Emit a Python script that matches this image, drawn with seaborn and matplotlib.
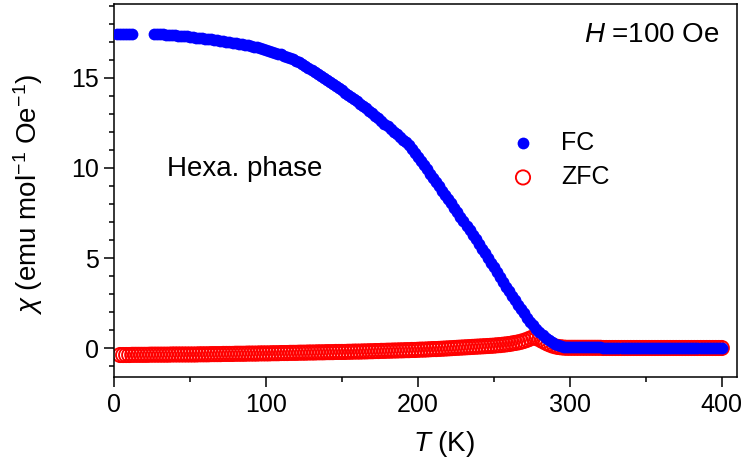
import matplotlib
matplotlib.use("Agg")
import matplotlib.pyplot as plt
from matplotlib.ticker import MultipleLocator
import seaborn as sns
import pandas as pd

# ---- measured susceptibility, field-cooled (FC) ----
fc_T = [2, 4, 6, 8, 10, 12,
        26, 28, 30, 32, 34, 36, 38, 40, 42, 44, 46, 48, 50,
        52, 54, 56, 58, 60, 62, 64, 66, 68, 70, 72, 74, 76, 78, 80, 82, 84, 86, 88, 90, 92, 94, 96, 98, 100,
        102, 104, 106, 108, 110, 112, 114, 116, 118, 120, 122, 124, 126, 128, 130, 132, 134, 136, 138, 140, 142, 144, 146, 148, 150,
        152, 154, 156, 158, 160, 162, 164, 166, 168, 170, 172, 174, 176, 178, 180, 182, 184, 186, 188, 190, 192, 194, 196, 198, 200,
        202, 204, 206, 208, 210, 212, 214, 216, 218, 220, 222, 224, 226, 228, 230, 232, 234, 236, 238, 240, 242, 244, 246, 248, 250,
        252, 254, 256, 258, 260, 262, 264, 266, 268, 270, 272, 274, 276, 278, 280, 282, 284, 286, 288, 290, 292, 294, 296, 298, 300,
        302, 304, 306, 308, 310, 312, 314, 316, 318, 320, 322, 324, 326, 328, 330, 332, 334, 336, 338, 340, 342, 344, 346, 348, 350,
        352, 354, 356, 358, 360, 362, 364, 366, 368, 370, 372, 374, 376, 378, 380, 382, 384, 386, 388, 390, 392, 394, 396, 398, 400]
fc_chi = [17.46, 17.46, 17.46, 17.45, 17.45, 17.45,
          17.43, 17.43, 17.42, 17.41, 17.40, 17.39, 17.38, 17.36, 17.35, 17.33, 17.32, 17.30, 17.28,
          17.26, 17.24, 17.22, 17.20, 17.18, 17.16, 17.13, 17.11, 17.09, 17.06, 17.03, 17.01, 16.98, 16.95, 16.92,
          16.89, 16.86, 16.84, 16.81, 16.78, 16.74, 16.69, 16.65, 16.60, 16.55,
          16.50, 16.45, 16.40, 16.35, 16.30, 16.24, 16.17, 16.10, 16.03, 15.95, 15.86, 15.76, 15.66, 15.56, 15.45,
          15.34, 15.23, 15.12, 15.01, 14.90, 14.78, 14.66, 14.54, 14.42, 14.30,
          14.18, 14.06, 13.94, 13.82, 13.70, 13.57, 13.44, 13.31, 13.18, 13.05, 12.91, 12.76, 12.61, 12.46, 12.31,
          12.16, 12.01, 11.86, 11.72, 11.58, 11.42, 11.25, 11.05, 10.85, 10.63,
          10.39, 10.15, 9.92, 9.69, 9.46, 9.23, 8.99, 8.75, 8.51, 8.27, 8.03, 7.79, 7.55, 7.30, 7.05,
          6.80, 6.55, 6.30, 6.04, 5.78, 5.52, 5.26, 5.00, 4.74, 4.48,
          4.22, 3.96, 3.69, 3.42, 3.16, 2.91, 2.66, 2.41, 2.17, 1.93, 1.70, 1.48, 1.27, 1.07, 0.88,
          0.71, 0.56, 0.43, 0.32, 0.23, 0.16, 0.11, 0.08, 0.06, 0.05,
          0.04, 0.04, 0.04, 0.04, 0.04, 0.04, 0.04, 0.04, 0.04, 0.04, 0.03, 0.03, 0.03, 0.03, 0.03,
          0.03, 0.03, 0.03, 0.03, 0.03, 0.03, 0.03, 0.03, 0.03, 0.03,
          0.03, 0.03, 0.03, 0.03, 0.03, 0.02, 0.02, 0.02, 0.02, 0.02, 0.02, 0.02, 0.02, 0.02, 0.02,
          0.02, 0.02, 0.02, 0.02, 0.02, 0.02, 0.02, 0.02, 0.02, 0.02]

# ---- measured susceptibility, zero-field-cooled (ZFC) ----
zfc_T = [4, 6, 8, 10, 12, 14, 16, 18, 20, 22, 24, 26, 28, 30, 32, 34, 36, 38, 40, 42, 44, 46, 48, 50,
         52, 54, 56, 58, 60, 62, 64, 66, 68, 70, 72, 74, 76, 78, 80, 82, 84, 86, 88, 90, 92, 94, 96, 98, 100,
         102, 104, 106, 108, 110, 112, 114, 116, 118, 120, 122, 124, 126, 128, 130, 132, 134, 136, 138, 140, 142, 144, 146, 148, 150,
         152, 154, 156, 158, 160, 162, 164, 166, 168, 170, 172, 174, 176, 178, 180, 182, 184, 186, 188, 190, 192, 194, 196, 198, 200,
         202, 204, 206, 208, 210, 212, 214, 216, 218, 220, 222, 224, 226, 228, 230, 232, 234, 236, 238, 240, 242, 244, 246, 248, 250,
         252, 254, 256, 258, 260, 262, 264, 266, 268, 270, 272, 274, 276, 278, 280, 282, 284, 286, 288, 290, 292, 294, 296, 298, 300,
         302, 304, 306, 308, 310, 312, 314, 316, 318, 320, 322, 324, 326, 328, 330, 332, 334, 336, 338, 340, 342, 344, 346, 348, 350,
         352, 354, 356, 358, 360, 362, 364, 366, 368, 370, 372, 374, 376, 378, 380, 382, 384, 386, 388, 390, 392, 394, 396, 398, 400]
zfc_chi = [-0.38, -0.38, -0.38, -0.38, -0.37, -0.37, -0.37, -0.37, -0.37, -0.37, -0.36, -0.36,
           -0.36, -0.36, -0.36, -0.36, -0.36, -0.35, -0.35, -0.35, -0.35, -0.35, -0.35, -0.35,
           -0.35, -0.35, -0.34, -0.34, -0.34, -0.34, -0.33, -0.33, -0.33, -0.33, -0.32, -0.32, -0.32,
           -0.32, -0.31, -0.31, -0.31, -0.31, -0.30, -0.30, -0.30, -0.30, -0.29, -0.29, -0.29,
           -0.29, -0.28, -0.28, -0.28, -0.27, -0.27, -0.27, -0.26, -0.26, -0.26, -0.25, -0.25, -0.25,
           -0.24, -0.24, -0.24, -0.23, -0.23, -0.23, -0.22, -0.22, -0.22, -0.21, -0.21, -0.21,
           -0.21, -0.20, -0.20, -0.19, -0.19, -0.19, -0.18, -0.18, -0.17, -0.17, -0.16, -0.16, -0.15,
           -0.15, -0.14, -0.14, -0.13, -0.13, -0.12, -0.12, -0.11, -0.11, -0.10, -0.10, -0.09,
           -0.08, -0.08, -0.07, -0.06, -0.05, -0.05, -0.04, -0.03, -0.02, -0.01, 0.00, 0.01, 0.02,
           0.03, 0.04, 0.05, 0.06, 0.07, 0.08, 0.09, 0.10, 0.11, 0.12, 0.13, 0.14,
           0.16, 0.17, 0.19, 0.21, 0.23, 0.26, 0.29, 0.32, 0.36, 0.41, 0.47, 0.54, 0.60,
           0.57, 0.49, 0.40, 0.31, 0.23, 0.16, 0.11, 0.07, 0.05, 0.03, 0.02, 0.02,
           0.02, 0.02, 0.02, 0.02, 0.02, 0.02, 0.02, 0.02, 0.02, 0.02, 0.01, 0.01, 0.01, 0.01, 0.01,
           0.01, 0.01, 0.01, 0.01, 0.01, 0.01, 0.01, 0.01, 0.01, 0.01,
           0.01, 0.01, 0.01, 0.01, 0.01, 0.01, 0.01, 0.01, 0.01, 0.01, 0.01, 0.01, 0.01, 0.01, 0.01,
           0.01, 0.01, 0.01, 0.01, 0.01, 0.01, 0.01, 0.01, 0.01, 0.01]

x_ticks = [0, 100, 200, 300, 400]
y_ticks = [0, 5, 10, 15]

sns.set_style("ticks")
plt.rcParams["font.family"] = ["Liberation Sans", "DejaVu Sans"]
plt.rcParams["text.color"] = "black"
plt.rcParams["mathtext.fontset"] = "custom"
plt.rcParams["mathtext.rm"] = "Liberation Sans"
plt.rcParams["mathtext.it"] = "Liberation Sans:italic"
plt.rcParams["mathtext.bf"] = "Liberation Sans:bold"

fc_df = pd.DataFrame({"T": fc_T, "chi": fc_chi})
zfc_df = pd.DataFrame({"T": zfc_T, "chi": zfc_chi})

fig = plt.figure(figsize=(7.45, 4.63), dpi=100)
fig.patch.set_facecolor("white")
ax = fig.add_axes([114 / 745, 1 - 377 / 463, 623 / 745, 373 / 463])

sns.scatterplot(data=zfc_df, x="T", y="chi", ax=ax, marker="o", s=105,
                facecolor="none", edgecolor="#ff0000", linewidth=1.35,
                label="ZFC", zorder=2)
sns.scatterplot(data=fc_df, x="T", y="chi", ax=ax, marker="o", s=72,
                color="#0000ff", linewidth=0, label="FC", zorder=3)

ax.set_xlim(0, 410)
ax.set_ylim(-1.6, 19.1)
ax.set_xticks(x_ticks)
ax.set_yticks(y_ticks)
ax.xaxis.set_minor_locator(MultipleLocator(50))
ax.yaxis.set_minor_locator(MultipleLocator(1))

for sp in ax.spines.values():
    sp.set_visible(True)
    sp.set_color("black")
    sp.set_linewidth(1.1)
ax.tick_params(which="major", direction="out", length=7.2, width=1.1,
               color="black", labelsize=18, labelcolor="black",
               top=False, right=False)
ax.tick_params(axis="x", which="major", pad=4)
ax.tick_params(axis="y", which="major", pad=3.5)
ax.tick_params(which="minor", direction="out", length=3.6, width=1.1,
               color="black", top=False, right=False)

ax.set_xlabel(r"$\mathit{T}$ (K)", fontsize=20, color="black")
ax.set_ylabel(r"$\chi$ (emu mol$^{-1}$ Oe$^{-1}$)", fontsize=20, color="black")
ax.xaxis.set_label_coords((444 - 114) / 623, -0.14)
ax.yaxis.set_label_coords((45 - 114) / 623, 0.49)

ax.text(35, 9.53, "Hexa. phase", fontsize=20, ha="left", va="baseline", color="black")
ax.text(398.7, 17.0, r"$\mathit{H}$ =100 Oe", fontsize=20, ha="right",
        va="baseline", color="black")

handles, labels = ax.get_legend_handles_labels()
order = [labels.index("FC"), labels.index("ZFC")]
ax.legend([handles[i] for i in order], [labels[i] for i in order],
          loc="upper left", bbox_to_anchor=(488 / 745, 1 - 108 / 463),
          bbox_transform=fig.transFigure, frameon=False, fontsize=18,
          handlelength=1.0, handletextpad=1.02, labelspacing=0.42,
          borderpad=0.4, scatterpoints=1, labelcolor="black")

fig.savefig("out.png", dpi=100, facecolor="white")
